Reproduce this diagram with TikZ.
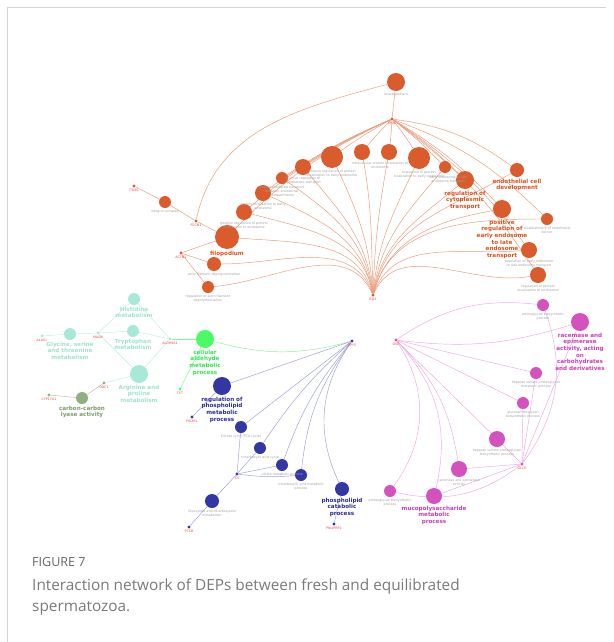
\documentclass[tikz,border=0pt]{standalone}
\usepackage{fontspec}
\setmainfont{DejaVu Sans}
\newfontfamily\capfont{Open Sans}
\usetikzlibrary{positioning, backgrounds}
\definecolor{Rust}{HTML}{DA5B2C}
\definecolor{RustEdge}{HTML}{EA9A7A}
\definecolor{RustText}{HTML}{DE4F1B}
\definecolor{Mint}{HTML}{A8E8D6}
\definecolor{MintEdge}{HTML}{BDEEE0}
\definecolor{MintText}{HTML}{9FE2CF}
\definecolor{Lime}{HTML}{4CFA66}
\definecolor{LimeEdge}{HTML}{86F597}
\definecolor{LimeText}{HTML}{33E64C}
\definecolor{Olive}{HTML}{90AE7E}
\definecolor{OliveEdge}{HTML}{B3C6A6}
\definecolor{OliveText}{HTML}{7E9C6B}
\definecolor{Navy}{HTML}{3237A3}
\definecolor{NavyEdge}{HTML}{9C9EDA}
\definecolor{NavyText}{HTML}{2A2E96}
\definecolor{Orchid}{HTML}{D452BE}
\definecolor{OrchidEdge}{HTML}{EDAAE2}
\definecolor{OrchidText}{HTML}{CC3DB5}
\definecolor{GeneRed}{HTML}{F04848}
\definecolor{TermGray}{HTML}{A0A0A0}
\definecolor{CapGray}{HTML}{666666}
\definecolor{CapText}{HTML}{7A7A7A}
\definecolor{FrameGray}{HTML}{D4D4D4}
\newcommand{\termfont}{\fontsize{2.8}{3.3}\selectfont}
\newcommand{\keyfont}{\fontsize{4.8}{5.7}\selectfont\bfseries}
\tikzset{
  term/.style={circle, inner sep=0pt, minimum size=#1},
  gene/.style={circle, inner sep=0pt, minimum size=1mm},
  genelbl/.style={font=\termfont, text=GeneRed, inner sep=0.15mm},
  termlbl/.style={font=\termfont, text=TermGray, align=center, inner sep=0.2mm},
  keylbl/.style={font=\keyfont, align=center, inner sep=0.2mm},
  link/.style={line width=0.2mm},
}

\begin{document}
\begin{tikzpicture}[x=0.3mm, y=0.3mm]
  \useasboundingbox (0,0) rectangle (613,-642);
  \draw[FrameGray, line width=0.3mm] (7,-642) -- (7,-7) -- (606,-7);

  % endosome / filopodium cluster
  \node[gene, fill=Rust] (msn)   at (392,-119) {};
  \node[gene, fill=Rust] (rdx)   at (373,-295) {};
  \node[gene, fill=Rust] (itgb1) at (134,-186) {};
  \node[gene, fill=Rust] (fscn1) at (196,-221) {};
  \node[gene, fill=Rust] (actn1) at (181,-253) {};
  \node[term=5.4mm, fill=Rust] (inv)   at (396,-82)  {};
  \node[term=3.6mm, fill=Rust] (integ) at (165,-202) {};
  \node[term=7.2mm, fill=Rust] (filo)  at (227,-237) {};
  \node[term=4.2mm, fill=Rust] (adep)  at (214,-264) {};
  \node[term=3.6mm, fill=Rust] (radep) at (208,-287) {};
  \node[term=4.8mm, fill=Rust] (prpe)  at (244,-212) {};
  \node[term=4.8mm, fill=Rust] (pled)  at (263,-193) {};
  \node[term=3.6mm, fill=Rust] (vmt)   at (282,-178) {};
  \node[term=4.8mm, fill=Rust] (prct)  at (303,-167) {};
  \node[term=6.6mm, fill=Rust] (prple) at (332,-157) {};
  \node[term=4.8mm, fill=Rust] (tpe)   at (362,-152) {};
  \node[term=4.8mm, fill=Rust] (ple)   at (389,-152) {};
  \node[term=6.6mm, fill=Rust] (rple)  at (419,-158) {};
  \node[term=3.6mm, fill=Rust] (eelt)  at (445,-167) {};
  \node[term=5.4mm, fill=Rust] (rct)   at (465,-180) {};
  \node[term=4.2mm, fill=Rust] (ecd)   at (517,-170) {};
  \node[term=5.4mm, fill=Rust] (preel) at (502,-209) {};
  \node[term=3.6mm, fill=Rust] (eeb)   at (547,-219) {};
  \node[term=4.8mm, fill=Rust] (reel)  at (529,-250) {};
  \node[term=4.8mm, fill=Rust] (rpe)   at (538,-275) {};

  \node[genelbl, below=0.1mm of msn]   (msn-l)   {MSN};
  \node[genelbl, below=0.1mm of rdx]   (rdx-l)   {RDX};
  \node[genelbl, below=0.1mm of itgb1] (itgb1-l) {ITGB1};
  \node[genelbl, below=0.1mm of fscn1] (fscn1-l) {FSCN1};
  \node[genelbl, below=0.1mm of actn1] (actn1-l) {ACTN1};
  \node[termlbl, below=0.2mm of inv]   (inv-l)   {invadopodium};
  \node[termlbl, below=0.2mm of integ] (integ-l) {integrin complex};
  \node[keylbl, text=RustText, below=0.2mm of filo] (filo-l) {filopodium};
  \node[termlbl, below=0.2mm of adep]  (adep-l)  {actin filament depolymerization};
  \node[termlbl, below=0.2mm of radep] (radep-l) {regulation of actin filament\\depolymerization};
  \node[termlbl, below=0.2mm of prpe]  (prpe-l)  {positive regulation of protein\\localization to endosome};
  \node[termlbl, below=0.2mm of pled]  (pled-l)  {protein localization to early\\endosome};
  \node[termlbl, below=0.2mm of vmt]   (vmt-l)   {vesicle-mediated transport\\between endosomal\\compartments};
  \node[termlbl, below=0.2mm of prct]  (prct-l)  {positive regulation of\\cytoplasmic transport};
  \node[termlbl, below=0.2mm of prple] (prple-l) {positive regulation of protein\\localization to early endosome};
  \node[termlbl, anchor=north] (ple-l) at (380,-161) {intracellular protein localization to\\endosome};
  \node[termlbl, below=0.2mm of rple]  (rple-l)  {regulation of protein\\localization to early endosome};
  \node[termlbl, below=0.6mm of eelt, xshift=1mm] (eelt-l) {early endosome to late\\endosome transport};
  \node[keylbl, text=RustText, below=0.2mm of rct]   (rct-l)   {regulation of\\cytoplasmic\\transport};
  \node[keylbl, text=RustText, below=0.2mm of ecd]   (ecd-l)   {endothelial cell\\development};
  \node[keylbl, text=RustText, below=0.2mm of preel] (preel-l) {positive\\regulation of\\early endosome\\to late\\endosome\\transport};
  \node[termlbl, below=0.2mm of eeb]   (eeb-l)   {establishment of endothelial\\barrier};
  \node[termlbl, below=0.2mm of reel]  (reel-l)  {regulation of early endosome\\to late endosome transport};
  \node[termlbl, below=0.2mm of rpe]   (rpe-l)   {regulation of protein\\localization to endosome};

  % amino acid metabolism cluster
  \node[gene, fill=Mint]  (alas) at (42,-336)  {};
  \node[gene, fill=Mint]  (maoa) at (98,-333)  {};
  \node[gene, fill=Mint]  (aldh) at (170,-339) {};
  \node[gene, fill=Olive] (odc)  at (104,-383) {};
  \node[gene, fill=Olive] (cyp)  at (49,-395)  {};
  \node[gene, fill=Lime]  (tst)  at (180,-389) {};
  \node[term=3.6mm, fill=Mint]  (gly)  at (70,-334)  {};
  \node[term=3.6mm, fill=Mint]  (his)  at (134,-299) {};
  \node[term=3.6mm, fill=Mint]  (trp)  at (133,-331) {};
  \node[term=5.4mm, fill=Mint]  (arg)  at (139,-374) {};
  \node[term=3.6mm, fill=Olive] (ccl)  at (82,-398)  {};
  \node[term=5.4mm, fill=Lime]  (cald) at (205,-339) {};

  \node[genelbl, below=0.1mm of alas] (alas-l) {ALAS1};
  \node[genelbl, below=0.1mm of maoa] (maoa-l) {MAOA};
  \node[genelbl, below=0.1mm of aldh] (aldh-l) {ALDH9A1};
  \node[genelbl, below=0.1mm of odc]  (odc-l)  {ODC1};
  \node[genelbl, below=0.1mm of cyp]  (cyp-l)  {CYP17A1};
  \node[genelbl, below=0.1mm of tst]  (tst-l)  {TST};
  \node[keylbl, text=MintText, below=0.2mm of gly]   (gly-l)  {Glycine, serine\\and threonine\\metabolism};
  \node[keylbl, text=MintText, below=0.2mm of his]   (his-l)  {Histidine\\metabolism};
  \node[keylbl, text=MintText, below=0.2mm of trp]   (trp-l)  {Tryptophan\\metabolism};
  \node[keylbl, text=MintText, below=0.2mm of arg]   (arg-l)  {Arginine and\\proline\\metabolism};
  \node[keylbl, text=OliveText, below=0.2mm of ccl]  (ccl-l)  {carbon-carbon\\lyase activity};
  \node[keylbl, text=LimeText, below=0.2mm of cald]  (cald-l) {cellular\\aldehyde\\metabolic\\process};

  % citrate / phospholipid cluster
  \node[gene, fill=Navy] (bhub) at (352,-341) {};
  \node[gene, fill=Navy] (pik)  at (192,-417) {};
  \node[gene, fill=Navy] (cs)   at (237,-474) {};
  \node[gene, fill=Navy] (pccb) at (189,-527) {};
  \node[gene, fill=Navy] (pnl)  at (334,-524) {};
  \node[term=5.4mm, fill=Navy] (rplm) at (222,-386) {};
  \node[term=3.6mm, fill=Navy] (tca)  at (241,-427) {};
  \node[term=3.6mm, fill=Navy] (tac)  at (260,-448) {};
  \node[term=3.6mm, fill=Navy] (cmp)  at (282,-465) {};
  \node[term=3.6mm, fill=Navy] (tamp) at (301,-475) {};
  \node[term=4.2mm, fill=Navy] (glx)  at (212,-501) {};
  \node[term=4.2mm, fill=Navy] (plcp) at (342,-489) {};

  \node[genelbl, below=0.1mm of bhub] (bhub-l) {DPYS};
  \node[genelbl, below=0.1mm of pik]  (pik-l)  {PIK3R1};
  \node[genelbl, below=0.1mm of cs]   (cs-l)   {CS};
  \node[genelbl, below=0.1mm of pccb] (pccb-l) {PCCB};
  \node[genelbl, below=0.1mm of pnl]  (pnl-l)  {PNLIPRP2};
  \node[keylbl, text=NavyText, below=0.2mm of rplm] (rplm-l) {regulation of\\phospholipid\\metabolic\\process};
  \node[termlbl, below=0.2mm of tca]  (tca-l)  {Citrate cycle (TCA cycle)};
  \node[termlbl, below=0.2mm of tac]  (tac-l)  {tricarboxylic acid cycle};
  \node[termlbl, below=0.2mm of cmp]  (cmp-l)  {citrate metabolic process};
  \node[termlbl, below=0.2mm of tamp] (tamp-l) {tricarboxylic acid metabolic\\process};
  \node[termlbl, below=0.2mm of glx]  (glx-l)  {Glyoxylate and dicarboxylate\\metabolism};
  \node[keylbl, text=NavyText, below=0.2mm of plcp] (plcp-l) {phospholipid\\catabolic\\process};

  % glycosaminoglycan cluster
  \node[gene, fill=Orchid] (dse)  at (396,-340) {};
  \node[gene, fill=Orchid] (glce) at (522,-464) {};
  \node[term=3.6mm, fill=Orchid] (amgb) at (543,-305) {};
  \node[term=5.4mm, fill=Orchid] (race) at (580,-322) {};
  \node[term=3.6mm, fill=Orchid] (hspm) at (536,-373) {};
  \node[term=3.6mm, fill=Orchid] (gagb) at (523,-403) {};
  \node[term=4.8mm, fill=Orchid] (hspb) at (497,-439) {};
  \node[term=4.8mm, fill=Orchid] (reac) at (459,-469) {};
  \node[term=3.6mm, fill=Orchid] (pgb)  at (390,-491) {};
  \node[term=4.8mm, fill=Orchid] (mps)  at (434,-496) {};

  \node[genelbl, below=0.1mm of dse]  (dse-l)  {DSE};
  \node[genelbl, below=0.1mm of glce] (glce-l) {GLCE};
  \node[termlbl, below=0.2mm of amgb] (amgb-l) {aminoglycan biosynthetic\\process};
  \node[keylbl, text=OrchidText, below=0.2mm of race] (race-l) {racemase and\\epimerase\\activity, acting\\on\\carbohydrates\\and derivatives};
  \node[termlbl, below=0.2mm of hspm] (hspm-l) {heparan sulfate proteoglycan\\metabolic process};
  \node[termlbl, below=0.2mm of gagb] (gagb-l) {glycosaminoglycan\\biosynthetic process};
  \node[termlbl, below=0.2mm of hspb] (hspb-l) {heparan sulfate proteoglycan\\biosynthetic process};
  \node[termlbl, below=0.2mm of reac] (reac-l) {racemase and epimerase\\activity};
  \node[termlbl, below=0.2mm of pgb]  (pgb-l)  {proteoglycan biosynthetic\\process};
  \node[keylbl, text=OrchidText, below=0.2mm of mps] (mps-l) {mucopolysaccharide\\metabolic\\process};

  \begin{scope}[on background layer, link]
    \begin{scope}[draw=RustEdge]
      \draw (itgb1) -- (integ) -- (fscn1) -- (filo);
      \draw (fscn1) to[out=78, in=195] (inv);
      \draw (actn1) -- (filo);
      \draw (actn1) -- (adep);
      \draw (actn1) -- (radep);
      \draw (msn) -- (inv);
      \foreach \t/\b in {filo/10, prpe/8, pled/6, vmt/5, prct/4, prple/3, tpe/2}
        \draw (msn) to[bend right=\b] (\t);
      \foreach \t/\b in {ple/2, rple/3, eelt/4, rct/5, ecd/14, preel/8, eeb/12, reel/10, rpe/10}
        \draw (msn) to[bend left=\b] (\t);
      \foreach \t/\o/\i in {filo/105/-5, adep/110/0, radep/115/5, prpe/100/-15,
          pled/100/-25, vmt/98/-35, prct/96/-50, prple/94/-65, tpe/92/-80,
          ple/88/-100, rple/85/-115, eelt/82/-130, rct/80/-140, ecd/78/-150,
          preel/75/-170, eeb/75/180, reel/70/185, rpe/65/190}
        \draw (rdx) to[out=\o, in=\i] (\t);
    \end{scope}
    \begin{scope}[draw=MintEdge]
      \draw (alas) -- (gly) -- (maoa);
      \foreach \t in {his, trp, arg}
        \draw (maoa) -- (\t) -- (aldh);
      \draw (odc) -- (arg);
    \end{scope}
    \draw[OliveEdge] (cyp) -- (ccl) -- (odc);
    \draw[LimeEdge] (aldh) -- (cald);
    \draw[LimeEdge] (tst) -- (cald);
    \draw[LimeEdge] (cald) to[bend right=15] (bhub);
    \begin{scope}[draw=NavyEdge]
      \draw (pik) -- (rplm);
      \draw (bhub) -- (rplm);
      \draw (bhub) -- (tca);
      \foreach \t/\b in {tac/7, cmp/10, tamp/15, plcp/30}
        \draw (bhub) to[bend right=\b] (\t);
      \draw (cs) -- (tca);
      \draw (cs) -- (tac);
      \draw (cs) -- (cmp);
      \draw (cs) to[bend right=6] (tamp);
      \draw (cs) -- (glx) -- (pccb);
      \draw (pnl) -- (plcp);
    \end{scope}
    \begin{scope}[draw=OrchidEdge]
      \draw (dse) to[bend left=20] (amgb);
      \draw (dse) to[bend right=12] (race);
      \draw (dse) -- (hspm);
      \draw (dse) -- (gagb);
      \draw (dse) -- (hspb);
      \draw (dse) to[bend left=18] (reac);
      \draw (dse) to[bend left=28] (mps);
      \draw (dse) to[bend left=35] (pgb);
      \foreach \t in {hspb, reac, mps, gagb, hspm, race}
        \draw (glce) -- (\t);
      \draw (glce) to[bend left=25] (pgb);
      \draw (amgb) to[bend left=28] (glce);
    \end{scope}
  \end{scope}

  \node[font=\capfont\fontsize{10.7}{12}\selectfont, text=CapGray,
        anchor=base west, inner sep=0pt] (fig) at (32,-566) {FIGURE 7};
  \node[font=\capfont\fontsize{13.1}{17.9}\selectfont, text=CapText,
        anchor=north west, align=left, inner sep=0pt] (cap) at (32,-579)
        {Interaction network of DEPs between fresh and equilibrated\\spermatozoa.};
\end{tikzpicture}
\end{document}
